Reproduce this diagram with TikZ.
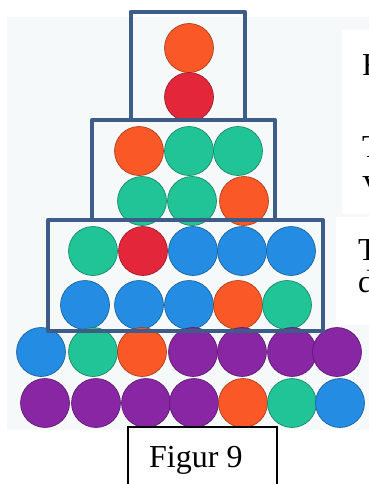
\documentclass[tikz,border=0pt]{standalone}
\usepackage{fontspec}
\setmainfont{Liberation Serif}
\usepackage{tikz}
\usetikzlibrary{positioning}
\definecolor{corange}{RGB}{250,88,38}
\definecolor{cred}{RGB}{228,38,58}
\definecolor{cgreen}{RGB}{32,196,150}
\definecolor{cblue}{RGB}{36,140,226}
\definecolor{cpurple}{RGB}{136,38,164}
\definecolor{fblue}{RGB}{62,92,136}
\definecolor{photo}{RGB}{246,249,249}
\tikzset{
  coin/.style={circle, draw=#1!65!black, fill=#1, line width=0.6pt, minimum size=49pt, inner sep=0pt},
  frm/.style={draw=fblue, line width=4pt, line join=round},
  txt/.style={font=\fontsize{32}{38}\selectfont, anchor=base west, inner sep=0pt},
  pyramid/.style={x=1pt, y=-1pt}
}

\begin{document}
\begin{tikzpicture}[pyramid]
        \clip (0,0) rectangle (369,484);
        \useasboundingbox (0,0) rectangle (369,484);
        \fill[white] (0,0) rectangle (369,484);
        % photo and text boxes
        \fill[photo] (7,17) rectangle (369,430);
        \fill[white] (342,30) rectangle (369,214);
        \fill[white] (336,217) rectangle (369,325);
        % coins, row by row
        \foreach \x/\c [count=\i] in {189/corange} \node[coin=\c] (a\i) at (\x,48) {};
        \foreach \x/\c [count=\i] in {189/cred} \node[coin=\c] (b\i) at (\x,97) {};
        \foreach \x/\c [count=\i] in {139/corange,189/cgreen,238/cgreen}
          \node[coin=\c] (c\i) at (\x,151) {};
        \foreach \x/\c [count=\i] in {142/cgreen,192/cgreen,244/corange}
          \node[coin=\c] (d\i) at (\x,201) {};
        \foreach \x/\c [count=\i] in {93/cgreen,143/cred,193/cblue,242/cblue,291/cblue}
          \node[coin=\c] (e\i) at (\x,251) {};
        \foreach \x/\c [count=\i] in {85/cblue,139/cblue,189/cblue,238/corange,287/cgreen}
          \node[coin=\c] (f\i) at (\x,305) {};
        \foreach \x/\c [count=\i] in {41/cblue,93/cgreen,142/corange,193/cpurple,242/cpurple,292/cpurple,337/cpurple}
          \node[coin=\c] (g\i) at (\x,352) {};
        \foreach \x/\c [count=\i] in {45/cpurple,96/cpurple,146/cpurple,194/cpurple,243/corange,292/cgreen,340/cblue}
          \node[coin=\c] (h\i) at (\x,403) {};
        % frames
        \draw[frm] (130.5,12) rectangle (245,120);
        \draw[frm] (92,120) rectangle (275,220);
        \draw[frm] (48,220) rectangle (323,331);
        % cut text on the right
        \node[txt] (t1) at (362,76) {F};
        \node[txt] (t2) at (362,157) {T};
        \node[txt] (t3) at (362,197) {V};
        \node[txt] (t4) at (358,260) {T};
        \node[txt] (t5) at (358,292) {d};
        % caption
        \draw[line width=1.8pt] (128,427) rectangle (277,495);
        \node[txt] (cap) at (149,467) {Figur 9};
      \end{tikzpicture}
\end{document}
